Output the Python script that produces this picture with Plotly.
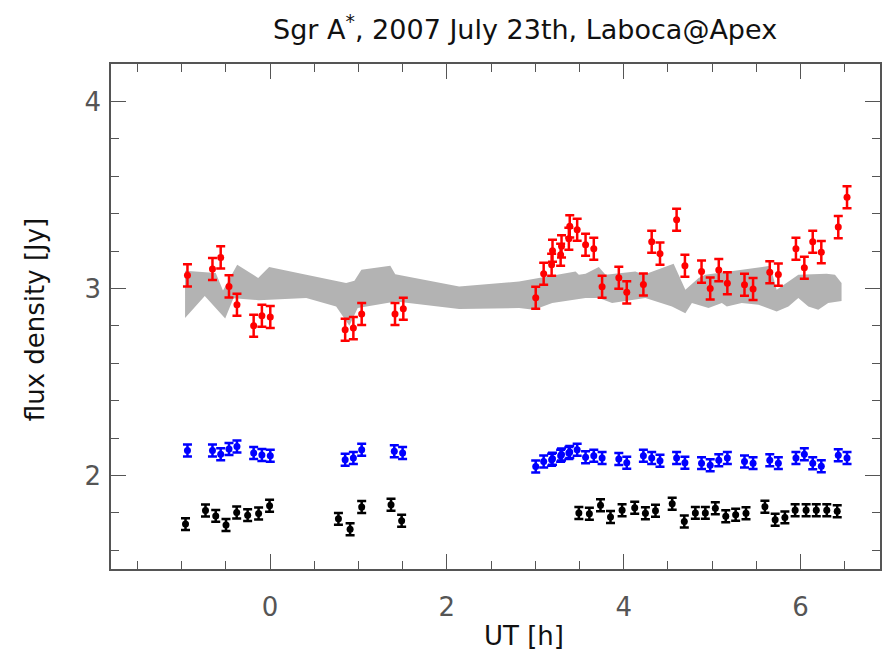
import plotly.graph_objects as go

# ---- data ----
red_x = [-0.935, -0.652, -0.559, -0.465, -0.375, -0.186, -0.093, 0.002, 0.849, 0.942, 1.036, 1.413, 1.507,
         3.005, 3.095, 3.185, 3.195, 3.287, 3.297, 3.380, 3.390, 3.474, 3.569, 3.662, 3.756, 3.945, 4.035,
         4.223, 4.317, 4.411, 4.599, 4.693, 4.881, 4.979, 5.076, 5.173, 5.367, 5.464, 5.653, 5.750,
         5.949, 6.044, 6.139, 6.236, 6.428, 6.527]
red_y = [3.070, 3.104, 3.166, 3.011, 2.913, 2.801, 2.854, 2.847, 2.779, 2.788, 2.863, 2.863, 2.891,
         2.950, 3.079, 3.127, 3.202, 3.180, 3.225, 3.266, 3.332, 3.314, 3.234, 3.212, 3.009, 3.057, 2.979,
         3.021, 3.250, 3.186, 3.367, 3.121, 3.090, 3.000, 3.098, 3.028, 3.020, 2.997, 3.087, 3.074,
         3.212, 3.111, 3.250, 3.194, 3.328, 3.488]
red_err = 0.059

blue_x = [-0.935, -0.652, -0.559, -0.465, -0.375, -0.186, -0.093, 0.002, 0.849, 0.942, 1.036, 1.405, 1.499,
          3.005, 3.095, 3.185, 3.195, 3.287, 3.297, 3.380, 3.390, 3.474, 3.569, 3.662, 3.756, 3.945, 4.035,
          4.223, 4.317, 4.411, 4.599, 4.693, 4.881, 4.979, 5.076, 5.173, 5.367, 5.464, 5.653, 5.750,
          5.949, 6.044, 6.139, 6.236, 6.428, 6.527]
blue_y = [2.134, 2.134, 2.114, 2.141, 2.155, 2.120, 2.109, 2.105, 2.084, 2.093, 2.137, 2.130, 2.120,
          2.048, 2.075, 2.084, 2.090, 2.105, 2.112, 2.120, 2.126, 2.137, 2.098, 2.105, 2.093, 2.088, 2.068,
          2.105, 2.093, 2.079, 2.093, 2.068, 2.066, 2.055, 2.081, 2.093, 2.075, 2.066, 2.081, 2.066,
          2.093, 2.114, 2.065, 2.049, 2.108, 2.093]
blue_err = 0.032

black_x = [-0.957, -0.731, -0.615, -0.499, -0.378, -0.254, -0.130, -0.006, 0.773, 0.905, 1.036, 1.368, 1.488,
           3.493, 3.612, 3.738, 3.851, 3.982, 4.125, 4.246, 4.360, 4.549, 4.686, 4.811, 4.924, 5.037,
           5.155, 5.267, 5.384, 5.598, 5.714, 5.824, 5.940, 6.064, 6.179, 6.298, 6.416]
black_y = [1.740, 1.813, 1.784, 1.735, 1.802, 1.788, 1.797, 1.838, 1.768, 1.713, 1.831, 1.843, 1.758,
           1.799, 1.795, 1.841, 1.778, 1.814, 1.827, 1.798, 1.811, 1.849, 1.754, 1.800, 1.800, 1.825,
           1.782, 1.790, 1.798, 1.833, 1.763, 1.776, 1.814, 1.814, 1.814, 1.814, 1.809]
black_err = 0.032

band_upper_x = [-0.962, -0.615, -0.533, -0.372, -0.135, -0.011, 0.409, 0.860, 0.954, 1.033, 1.360, 1.416,
                2.139, 2.816, 3.456, 3.493, 3.569, 3.719, 3.795, 4.133, 4.227, 4.565, 4.698, 4.848, 4.923,
                5.657, 5.731, 5.864, 5.976, 6.296, 6.391, 6.465]
band_upper_y = [3.095, 3.082, 2.989, 3.127, 3.056, 3.114, 3.073, 3.029, 3.041, 3.100, 3.121, 3.076,
                3.011, 3.037, 3.091, 3.073, 3.079, 3.114, 3.073, 3.091, 3.073, 3.132, 2.993, 3.056, 3.073,
                3.121, 2.993, 3.037, 3.073, 3.079, 3.073, 3.029]
band_lower_x = [-0.962, -0.739, -0.508, -0.415, -0.130, 0.409, 0.747, 0.897, 0.991, 1.424, 2.139, 2.816,
                2.985, 3.192, 3.569, 3.719, 3.869, 4.246, 4.546, 4.698, 4.772, 4.960, 5.111, 5.167, 5.336,
                5.525, 5.731, 5.864, 5.976, 6.089, 6.202, 6.314, 6.465]
band_lower_y = [2.842, 2.959, 2.839, 2.948, 2.937, 2.949, 2.904, 2.801, 2.895, 2.930, 2.890, 2.895,
                2.886, 2.922, 2.949, 2.949, 2.922, 2.949, 2.904, 2.868, 2.922, 2.895, 2.922, 2.904, 2.922,
                2.913, 2.877, 2.904, 2.949, 2.904, 2.886, 2.922, 2.933]

x_tickvals = [0, 2, 4, 6]
y_tickvals = [2, 3, 4]

FONT = "DejaVu Sans"

fig = go.Figure()

# gray band
fig.add_trace(go.Scatter(
    x=band_upper_x + band_lower_x[::-1],
    y=band_upper_y + band_lower_y[::-1],
    fill="toself", fillcolor="#b3b3b3", mode="lines",
    line=dict(width=0, color="#b3b3b3"), hoverinfo="skip", showlegend=False))

def add_series(xs, ys, err, color):
    fig.add_trace(go.Scatter(
        x=xs, y=ys, mode="markers",
        marker=dict(color=color, size=7),
        error_y=dict(type="constant", value=err, color=color, thickness=2.5, width=4.5),
        showlegend=False))

add_series(red_x, red_y, red_err, "#ff0000")
add_series(blue_x, blue_y, blue_err, "#0000ff")
add_series(black_x, black_y, black_err, "#000000")

axis_common = dict(showline=True, linecolor="#555555", linewidth=1.5, mirror="ticks",
                   ticks="inside", ticklen=15, tickwidth=1.2, tickcolor="#555555",
                   showgrid=False, zeroline=False,
                   tickfont=dict(family=FONT, size=26, color="#555555"))

fig.update_layout(
    width=884, height=656,
    margin=dict(l=111, r=2, t=64, b=87),
    paper_bgcolor="white", plot_bgcolor="white",
    title=dict(text="Sgr A<sup>*</sup>, 2007 July 23th, Laboca@Apex",
               font=dict(family=FONT, size=27, color="#111111"),
               x=0.594, xref="container", xanchor="center",
               y=1 - 30 / 656, yref="container", yanchor="middle"),
    xaxis=dict(range=[-1.8, 6.9], tickvals=x_tickvals, ticktext=[str(v) for v in x_tickvals],
               minor=dict(dtick=0.5, tick0=0, ticklen=8, ticks="inside", tickcolor="#555555", tickwidth=1.2),
               ticklabelstandoff=14, **axis_common),
    yaxis=dict(range=[1.5, 4.2], tickvals=y_tickvals, ticktext=[str(v) for v in y_tickvals],
               minor=dict(dtick=0.2, tick0=0, ticklen=8, ticks="inside", tickcolor="#555555", tickwidth=1.2),
               ticklabelstandoff=3, **axis_common),
    annotations=[
        dict(text="UT [h]", xref="paper", yref="paper", x=(525 - 111) / 771, y=-(636 - 569) / 505,
             xanchor="center", yanchor="middle", showarrow=False,
             font=dict(family=FONT, size=26, color="#111111")),
        dict(text="flux density [Jy]", xref="paper", yref="paper", x=-(111 - 35) / 771,
             y=(569 - 320) / 505, xanchor="center", yanchor="middle", textangle=-90, showarrow=False,
             font=dict(family=FONT, size=26, color="#111111")),
    ],
)

fig.write_html("out.html", config={"displayModeBar": False},
               post_script="document.body.style.margin='0';document.body.style.padding='0';")
